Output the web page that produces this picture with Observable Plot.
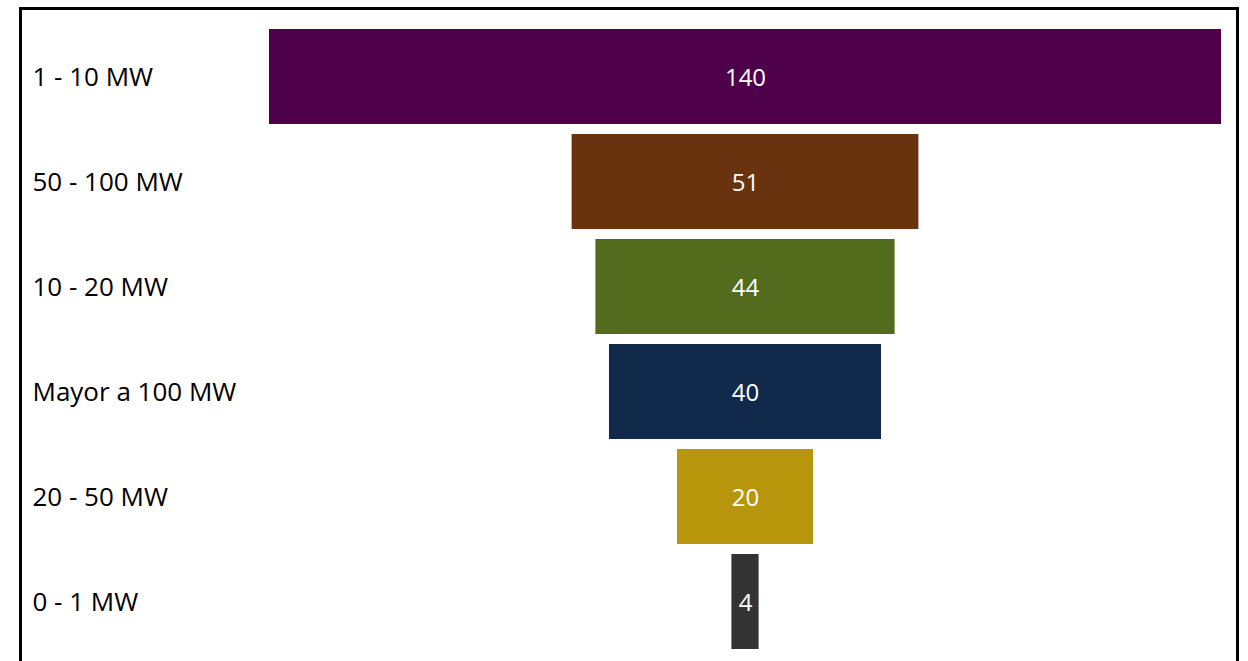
<!DOCTYPE html>
<html>
<head>
<meta charset="utf-8">
<script src="https://cdn.jsdelivr.net/npm/d3@7"></script>
<script src="https://cdn.jsdelivr.net/npm/@observablehq/plot@0.6"></script>
<style>
  html, body { margin: 0; padding: 0; background: #fff; }
  #wrap { position: relative; width: 1248px; height: 661px; overflow: hidden; }
  #border { position: absolute; left: 19px; top: 7px; width: 1214px; height: 700px; border: 3px solid #000; box-sizing: content-box; pointer-events: none; }
  #chart { position: absolute; left: 0; top: 0; }
</style>
</head>
<body>
<div id="wrap">
  <div id="chart"></div>
  <div id="border"></div>
</div>
<script>
const categories = ["1 - 10 MW", "50 - 100 MW", "10 - 20 MW", "Mayor a 100 MW", "20 - 50 MW", "0 - 1 MW"];
const values = [140, 51, 44, 40, 20, 4];
const colors = ["#4F004B", "#68330E", "#536B1C", "#112A4B", "#B8960B", "#333333"];

const data = categories.map((c, i) => ({category: c, value: values[i], color: colors[i]}));
const maxV = d3.max(values);

const plot = Plot.plot({
  width: 1248,
  height: 661,
  marginLeft: 269,
  marginRight: 27,
  marginTop: 24,
  marginBottom: 7,
  style: {fontFamily: "'Open Sans', sans-serif", background: "transparent"},
  x: {domain: [-maxV / 2, maxV / 2], axis: null},
  y: {domain: categories, axis: null, paddingInner: 10 / 105, paddingOuter: 5 / 105},
  marks: [
    Plot.barX(data, {
      y: "category",
      x1: d => -d.value / 2,
      x2: d => d.value / 2,
      fill: d => d.color
    }),
    Plot.text(data, {
      y: "category",
      x: 0,
      dy: 1,
      text: d => String(d.value),
      fill: "#fff",
      fontSize: 24
    }),
    Plot.text(data, {
      y: "category",
      frameAnchor: "left",
      dx: -237,
      dy: 1,
      textAnchor: "start",
      text: "category",
      fill: "#000",
      fontSize: 26
    })
  ]
});
document.getElementById("chart").appendChild(plot);
</script>
</body>
</html>
